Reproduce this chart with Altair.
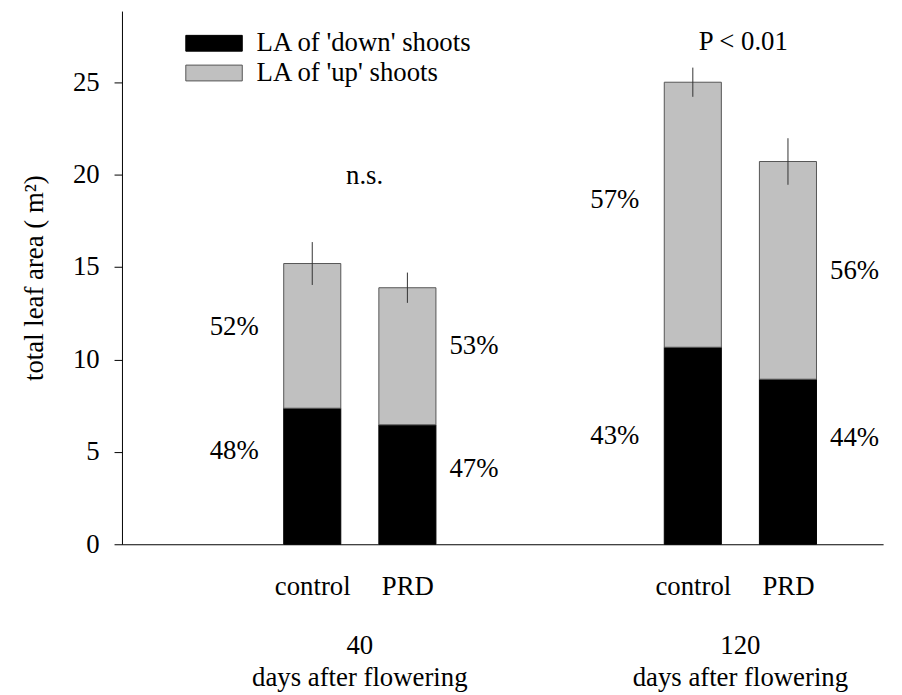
import altair as alt
import pandas as pd

# ---- data ----
days = ["40", "40", "120", "120"]
treatments = ["control", "PRD", "control", "PRD"]
la_down = [7.36, 6.46, 10.66, 8.93]      # LA of 'down' shoots (m2)
la_total = [15.19, 13.88, 25.0, 20.71]   # total leaf area (m2)
se = [1.16, 0.82, 0.79, 1.26]            # error bar half-length
pct_down = ["48%", "47%", "43%", "44%"]
pct_up = ["52%", "53%", "57%", "56%"]
pct_down_y = [5.03, 4.05, 5.86, 5.75]
pct_up_y = [11.74, 10.75, 18.62, 14.77]
series = ["LA of 'down' shoots", "LA of 'up' shoots"]
group_days = ["40", "120"]
group_caption = "days after flowering"
sig_text = ["n.s.", "P < 0.01"]
sig_y = [19.49, 26.75]

FONT = "'Liberation Serif', 'Times New Roman', Times, serif"
FS = 27

# ---- layout helpers ----
group_start = {"40": 2, "120": 6}
treat_off = {"control": 0, "PRD": 1}
pos = [group_start[d] + treat_off[t] for d, t in zip(days, treatments)]
half_w = 0.3

rows = []
for p, d, t, dn, tot in zip(pos, days, treatments, la_down, la_total):
    rows.append(dict(x=p - half_w, x2=p + half_w, y=0, y2=dn, series=series[0]))
    rows.append(dict(x=p - half_w, x2=p + half_w, y=dn, y2=tot, series=series[1]))
bars_df = pd.DataFrame(rows)

err_df = pd.DataFrame(dict(x=pos, lo=[t - e for t, e in zip(la_total, se)],
                           hi=[t + e for t, e in zip(la_total, se)]))

lab_rows = []
for p, t, pd_, pu, yd, yu in zip(pos, treatments, pct_down, pct_up, pct_down_y, pct_up_y):
    lx = p - 0.82 if t == "control" else p + 0.70
    lab_rows.append(dict(x=lx, y=yd, text=pd_))
    lab_rows.append(dict(x=lx, y=yu, text=pu))
lab_df = pd.DataFrame(lab_rows)

sig_df = pd.DataFrame(dict(x=[group_start[g] + 0.55 for g in group_days], y=sig_y, text=sig_text))
sig_df.loc[1, "x"] = group_start["120"] + 0.53

grp_df = pd.DataFrame(dict(x=[group_start[g] + 0.5 for g in group_days], y=[-5.95, -5.95],
                           text=[f"{g}\n{group_caption}" for g in group_days]))

xscale = alt.Scale(domain=[0, 8], nice=False, zero=False)
yscale = alt.Scale(domain=[0, 28.85], nice=False)

bars = alt.Chart(bars_df).mark_bar(strokeWidth=1).encode(
    x=alt.X("x:Q", scale=xscale,
            axis=alt.Axis(values=[2, 3, 6, 7], ticks=False, tickSize=0, grid=False, title=None,
                          labelExpr="(datum.value == 2 || datum.value == 6) ? 'control' : 'PRD'",
                          labelFont=FONT, labelFontSize=FS, labelColor="black", labelPadding=30,
                          domainColor="black", domainWidth=1)),
    x2="x2:Q",
    y=alt.Y("y:Q", scale=yscale,
            axis=alt.Axis(values=[0, 5, 10, 15, 20, 25], grid=False, tickSize=8, tickColor="black",
                          domainColor="black", labelFont=FONT, labelFontSize=FS, labelColor="black",
                          labelPadding=15, title="total leaf area  ( m²)", titleFont=FONT,
                          titleFontSize=FS, titleFontWeight="normal", titleColor="black",
                          titlePadding=24)),
    y2="y2:Q",
    color=alt.Color("series:N", scale=alt.Scale(domain=series, range=["black", "#c0c0c0"]),
                    legend=alt.Legend(title=None, orient="none", legendX=79.4, legendY=19,
                                      symbolType="M-4,-1.12H4V1.12H-4Z", symbolSize=203,
                                      symbolStrokeColor="#444", symbolStrokeWidth=1,
                                      labelFont=FONT, labelFontSize=FS, labelColor="black",
                                      labelLimit=0, labelOffset=29.4, padding=0, rowPadding=2)),
    stroke=alt.Stroke("series:N", scale=alt.Scale(domain=series, range=["black", "#555555"]),
                      legend=None),
)

errs = alt.Chart(err_df).mark_rule(color="#333333", strokeWidth=1).encode(
    x="x:Q", y="lo:Q", y2="hi:Q")

pct = alt.Chart(lab_df).mark_text(font=FONT, fontSize=FS, color="black", baseline="middle",
                                  align="center").encode(x="x:Q", y="y:Q", text="text:N")

sig = alt.Chart(sig_df).mark_text(font=FONT, fontSize=FS, color="black", baseline="alphabetic",
                                  align="center").encode(x="x:Q", y="y:Q", text="text:N")

grp = alt.Chart(grp_df).mark_text(font=FONT, fontSize=FS, color="black", baseline="alphabetic",
                                  align="center", lineBreak="\n", lineHeight=32).encode(
    x="x:Q", y="y:Q", text="text:N")

chart = alt.layer(bars, errs, pct, sig, grp).properties(
    width=768, height=538,
    padding={"left": 115, "top": 0, "right": 11, "bottom": 148},
    autosize=alt.AutoSizeParams(type="none"),
    background="white",
).configure_view(stroke=None)

chart.save("out.html", embed_options={"renderer": "svg", "actions": False})
